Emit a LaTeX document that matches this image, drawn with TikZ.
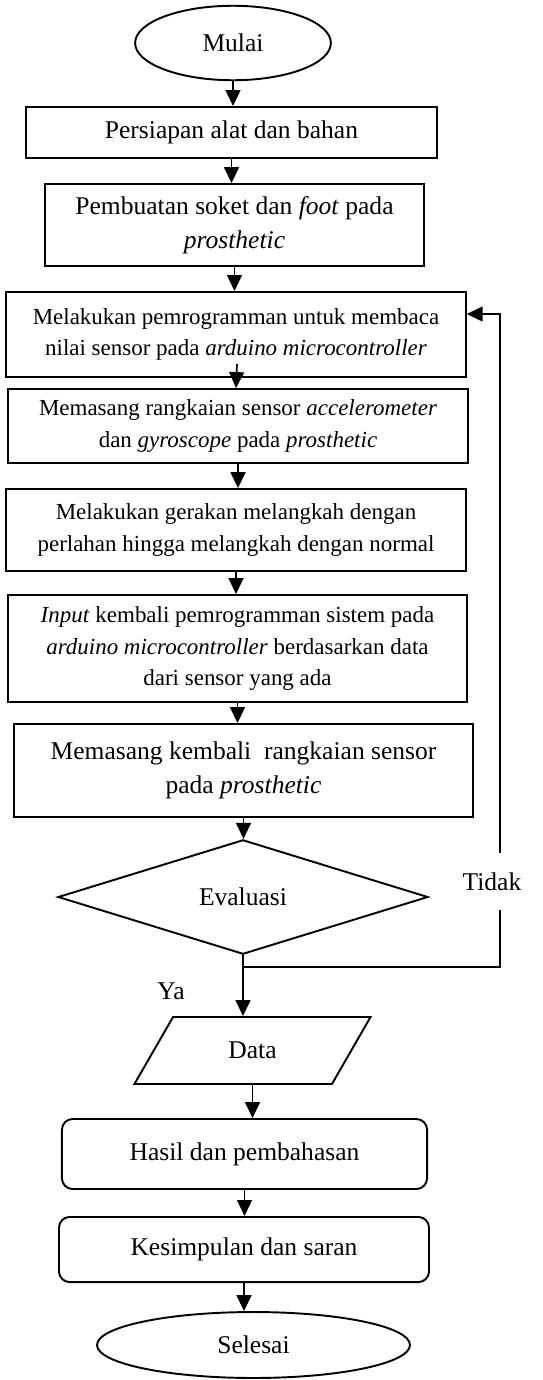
\documentclass[tikz,border=0pt]{standalone}
\usepackage{fontspec}
\setmainfont{Liberation Serif}
\usepackage{tikz}
\usetikzlibrary{shapes.geometric}
\usetikzlibrary{arrows.meta}
\usetikzlibrary{calc}
\newcommand{\besar}{\fontsize{12}{16.2}\selectfont}
\newcommand{\kecil}{\fontsize{10.8}{14.9}\selectfont}
\tikzstyle{proses} = [draw,rectangle,line width=0.9pt,align=center,inner sep=1pt]
\tikzstyle{terminal} = [draw,ellipse,line width=0.9pt,inner sep=1pt]
\tikzstyle{keputusan} = [draw,diamond,line width=0.9pt,inner sep=1pt]
\tikzstyle{io} = [draw,trapezium,trapezium left angle=59,trapezium right angle=121,trapezium stretches=true,line width=0.9pt,inner sep=1pt]
\tikzstyle{akhir} = [draw,rectangle,rounded corners=5pt,line width=0.9pt,inner sep=1pt]
\tikzstyle{panah} = [-{Triangle[length=7.5pt,width=7pt]},line width=0.8pt]

\begin{document}
\begin{tikzpicture}[x=0.47pt,y=-0.47pt,font=\besar]
\useasboundingbox (0,0) rectangle (542,1380);

\draw(233,43) node[terminal,minimum width=92pt,minimum height=35pt] (mulai) {Mulai};
\draw(231.5,132.5) node[proses,minimum width=193pt,minimum height=24pt] (persiapan) {Persiapan alat dan bahan};
\draw(234.5,225) node[proses,minimum width=178pt,minimum height=38.5pt] (soket) {Pembuatan soket dan \textit{foot} pada\\\textit{prosthetic}};

\draw(236,334.5) node[proses,minimum width=216pt,minimum height=40pt,font=\kecil] (baca) {Melakukan pemrogramman untuk membaca\\nilai sensor pada \textit{arduino microcontroller}};
\draw(238,426) node[proses,minimum width=216pt,minimum height=34.8pt,font=\kecil] (sensor) {Memasang rangkaian sensor \textit{accelerometer}\\dan \textit{gyroscope} pada \textit{prosthetic}};
\draw(236,530) node[proses,minimum width=216pt,minimum height=38.5pt,font=\kecil] (langkah) {Melakukan gerakan melangkah dengan\\perlahan hingga melangkah dengan normal};
\draw(237.5,648.5) node[proses,minimum width=215.7pt,minimum height=50.3pt,font=\kecil] (input) {\textit{Input} kembali pemrogramman sistem pada\\\textit{arduino microcontroller} berdasarkan data\\dari sensor yang ada};
\draw(243.5,770.5) node[proses,minimum width=215.7pt,minimum height=43.7pt] (pasang) {Memasang kembali\ \ rangkaian sensor\\pada \textit{prosthetic}};

\draw(243,897) node[keputusan,minimum width=173.9pt,minimum height=50.8pt] (evaluasi) {Evaluasi};
\draw(492,881.5) node[minimum height=26.8pt] (tidak) {Tidak};
\draw(171,991) node (ya) {Ya};

\draw(252.5,1050.5) node[io,minimum width=111.4pt,minimum height=31.5pt] (data) {Data};
\draw(244.5,1154) node[akhir,minimum width=171.6pt,minimum height=32.9pt] (hasil) {Hasil dan pembahasan};
\draw(244,1249.5) node[akhir,minimum width=173.9pt,minimum height=30.6pt] (simpulan) {Kesimpulan dan saran};
\draw(253.5,1345) node[terminal,minimum width=147.1pt,minimum height=31pt] (selesai) {Selesai};

\draw[panah] (mulai.south) -- (mulai.south |- persiapan.north);
\draw[panah] (persiapan.south) -- (persiapan.south |- soket.north);
\draw[panah] (soket.south) -- (soket.south |- baca.north);
\draw[panah] ($(baca.south)+(1,-14)$) -- (baca.south |- sensor.north);
\draw[panah] (sensor.south) -- (sensor.south |- langkah.north);
\draw[panah] (langkah.south) -- (langkah.south |- input.north);
\draw[panah] (input.south) -- (input.south |- pasang.north);
\draw[panah] (pasang.south) -- (pasang.south |- evaluasi.north);
\draw[panah] (evaluasi.south) -- (evaluasi.south |- data.north);
\draw[panah] (data.south) -- (data.south |- hasil.north);
\draw[panah] (hasil.south) -- (hasil.south |- simpulan.north);
\draw[panah] (simpulan.south) -- (simpulan.south |- selesai.north);

%loop kembali
\coordinate (pojok) at (500,967);
\coordinate (balik) at (500,314);
\draw[line width=0.8pt] (evaluasi.south |- pojok) -- (pojok) -- (pojok |- tidak.south);
\draw[panah] (pojok |- tidak.north) -- (balik) -- (balik -| baca.east);

\end{tikzpicture}
\end{document}
